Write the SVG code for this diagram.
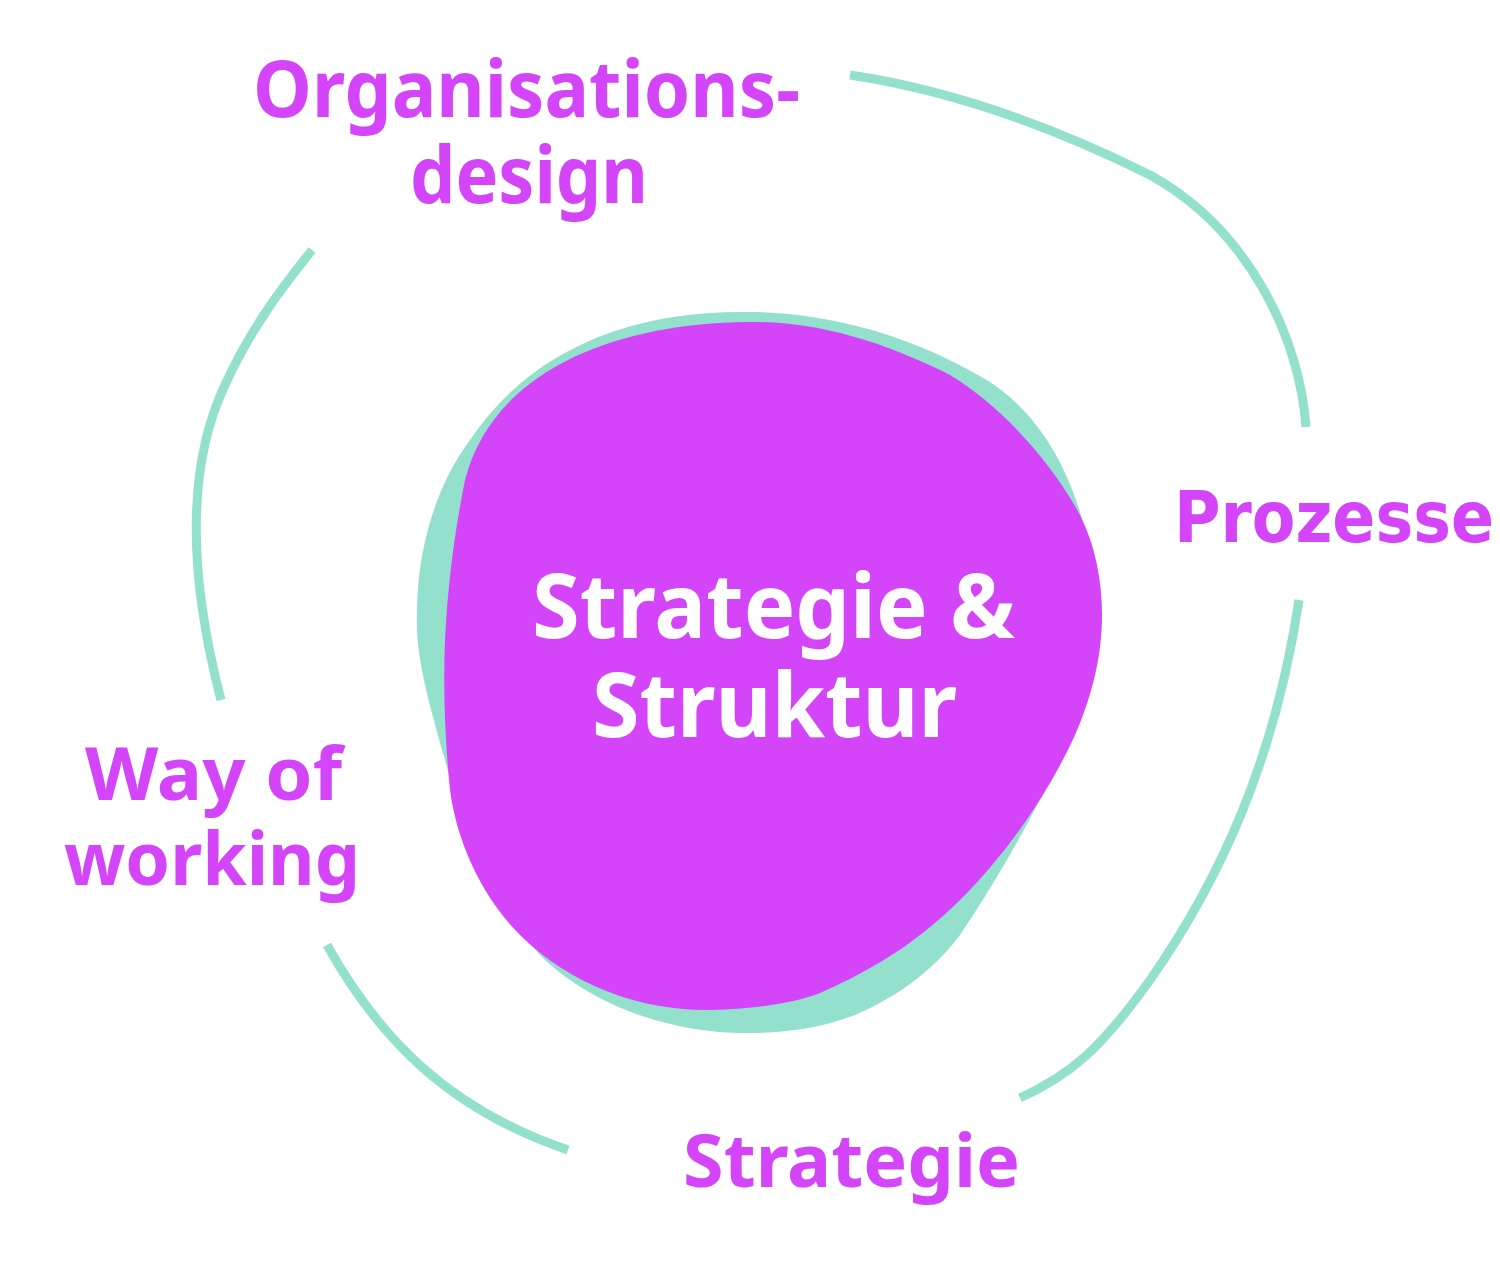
<svg xmlns="http://www.w3.org/2000/svg" width="1500" height="1269" viewBox="0 0 1500 1269">
<style>
.arc{fill:none;stroke:#93e0cc;stroke-width:9;stroke-linecap:butt}
.lbl{fill:#d445fa;font-family:"Noto Sans","DejaVu Sans",sans-serif;font-weight:700}
.wide{fill:#d445fa;font-family:"DejaVu Sans","Noto Sans",sans-serif;font-weight:700}
.ctr{fill:#ffffff;font-family:"Noto Sans","DejaVu Sans",sans-serif;font-weight:700}
</style>
<rect width="1500" height="1269" fill="#ffffff"/>
<g id="connectors">
<path class="arc" d="M 850 75 C 950 90, 1050 125, 1150 175 C 1250 230, 1300 340, 1306 427"/>
<path class="arc" d="M 1299 600 C 1275 760, 1220 880, 1150 980 C 1100 1050, 1070 1075, 1020 1098"/>
<path class="arc" d="M 327 945 C 380 1040, 450 1110, 568 1150"/>
<path class="arc" d="M 221 700 C 195 600, 180 480, 225 385 C 250 330, 280 290, 312 250"/>
</g>
<g id="center">
<path fill="#93e0cc" d="M 740 312 C 840 310, 930 345, 990 382 C 1040 415, 1070 470, 1085 530 L 1090 600 C 1090 680, 1070 730, 1050 780 C 1020 840, 990 890, 960 935 C 930 975, 890 1000, 855 1015 C 815 1030, 780 1033, 745 1033 C 670 1033, 590 1005, 540 955 C 490 900, 460 820, 445 760 C 425 690, 415 650, 417 610 C 418 540, 440 480, 470 440 C 530 350, 630 312, 740 312 Z"/>
<path fill="#d445fa" d="M 755 322 C 830 322, 900 350, 950 375 C 1000 405, 1050 460, 1080 515 C 1095 545, 1102 580, 1102 615 C 1102 660, 1090 700, 1075 735 C 1050 790, 1010 850, 960 900 C 910 950, 860 975, 820 993 C 790 1005, 740 1010, 705 1010 C 640 1010, 570 985, 520 935 C 475 890, 455 830, 450 790 C 445 740, 443 690, 445 640 C 448 580, 455 530, 465 480 C 490 380, 600 322, 755 322 Z"/>
<text class="ctr" font-size="90" x="532" y="638" textLength="483" lengthAdjust="spacingAndGlyphs">Strategie &amp;</text>
<text class="ctr" font-size="90" x="592" y="737" textLength="365" lengthAdjust="spacingAndGlyphs">Struktur</text>
</g>
<g id="organisationsdesign">
<text class="lbl" font-size="78" x="253" y="117" textLength="547" lengthAdjust="spacingAndGlyphs">Organisations-</text>
<text class="lbl" font-size="78" x="410" y="203" textLength="238" lengthAdjust="spacingAndGlyphs">design</text>
</g>
<g id="prozesse">
<text class="wide" font-size="72" x="1174" y="542" textLength="320" lengthAdjust="spacingAndGlyphs">Prozesse</text>
</g>
<g id="wayofworking">
<text class="lbl" font-size="74" x="85" y="800" textLength="257" lengthAdjust="spacingAndGlyphs">Way of</text>
<text class="lbl" font-size="74" x="64" y="885" textLength="296" lengthAdjust="spacingAndGlyphs">working</text>
</g>
<g id="strategie">
<text class="lbl" font-size="74" x="683" y="1187" textLength="337" lengthAdjust="spacingAndGlyphs">Strategie</text>
</g>
</svg>
